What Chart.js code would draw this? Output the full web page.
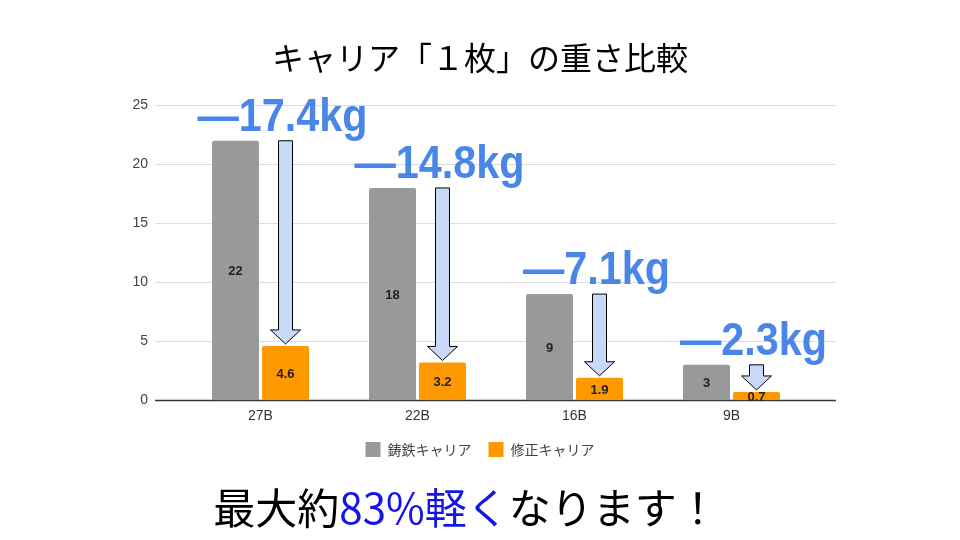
<!DOCTYPE html>
<html>
<head>
<meta charset="utf-8">
<script src="https://cdn.jsdelivr.net/npm/chart.js@4"></script>
<style>
    body { margin: 0; background: #fff; }
    #wrap { width: 960px; height: 540px; }
</style>
</head>
<body>
<div id="wrap"><canvas id="weight-chart" width="960" height="540"></canvas></div>
<script>
const carrierTypes = ['27B', '22B', '16B', '9B'];
const castIronWeights = [22, 18, 9, 3];
const modifiedWeights = [4.6, 3.2, 1.9, 0.7];
const reductionLabels = ['—17.4kg', '—14.8kg', '—7.1kg', '—2.3kg'];
const yTicks = [0, 5, 10, 15, 20, 25];

const GRAY = '#999999';
const ORANGE = '#ff9900';
const NOTE_BLUE = '#4a86e8';
const JP_FONT = '"Noto Sans CJK JP", "Noto Sans", sans-serif';
const LATIN_FONT = '"Liberation Sans", Arial, sans-serif';

// horizontal grid lines run wider than the bars (like the original sheet chart)
const wideGrid = {
    id: 'wideGrid',
    beforeDatasetsDraw(chart) {
        const ctx = chart.ctx;
        const y = chart.scales.y;
        ctx.save();
        yTicks.forEach(v => {
            const py = Math.round(y.getPixelForValue(v)) + 0.5;
            ctx.strokeStyle = v === 0 ? '#333333' : '#dddddd';
            ctx.lineWidth = v === 0 ? 1.5 : 1;
            ctx.beginPath();
            ctx.moveTo(155, py);
            ctx.lineTo(836, py);
            ctx.stroke();
        });
        ctx.restore();
    }
};

// value in the middle of each bar
const barValues = {
    id: 'barValues',
    afterDatasetsDraw(chart) {
        const ctx = chart.ctx;
        ctx.save();
        ctx.font = 'bold 13px ' + LATIN_FONT;
        ctx.fillStyle = '#222';
        ctx.textAlign = 'center';
        ctx.textBaseline = 'middle';
        chart.data.datasets.forEach((ds, di) => {
            chart.getDatasetMeta(di).data.forEach((bar, i) => {
                ctx.fillText(String(ds.data[i]), bar.x, (bar.y + bar.base) / 2 + 1);
            });
        });
        ctx.restore();
    }
};

// arrows from the cast iron height down to the modified carrier, plus the big reduction text
const reductionArrows = {
    id: 'reductionArrows',
    afterDatasetsDraw(chart) {
        const ctx = chart.ctx;
        const y = chart.scales.y;
        const orangeBars = chart.getDatasetMeta(1).data;
        ctx.save();
        orangeBars.forEach((bar, i) => {
            const cx = bar.x;
            const top = y.getPixelForValue(castIronWeights[i]);
            const tip = y.getPixelForValue(modifiedWeights[i]) - 2;
            const headH = 14, shaftW = 7, headW = 15;
            ctx.beginPath();
            ctx.moveTo(cx - shaftW, top);
            ctx.lineTo(cx + shaftW, top);
            ctx.lineTo(cx + shaftW, tip - headH);
            ctx.lineTo(cx + headW, tip - headH);
            ctx.lineTo(cx, tip);
            ctx.lineTo(cx - headW, tip - headH);
            ctx.lineTo(cx - shaftW, tip - headH);
            ctx.closePath();
            ctx.fillStyle = '#c9daf8';
            ctx.fill();
            ctx.strokeStyle = '#000';
            ctx.lineWidth = 1;
            ctx.stroke();

            ctx.save();
            ctx.translate(cx - 3, top - 10);
            ctx.scale(0.88, 1);
            ctx.font = 'bold 47px ' + LATIN_FONT;
            ctx.fillStyle = NOTE_BLUE;
            ctx.textAlign = 'center';
            ctx.textBaseline = 'alphabetic';
            ctx.fillText(reductionLabels[i], 0, 0);
            ctx.restore();
        });
        ctx.restore();
    }
};

// closing line under the legend, part of it in blue
const caption = {
    id: 'caption',
    afterDraw(chart) {
        const ctx = chart.ctx;
        const parts = [
            ['最大約', '#000000'],
            ['83%軽く', '#1515e8'],
            ['なります！', '#000000']
        ];
        ctx.save();
        ctx.font = '42px ' + JP_FONT;
        ctx.textBaseline = 'middle';
        ctx.textAlign = 'left';
        const total = parts.reduce((w, p) => w + ctx.measureText(p[0]).width, 0);
        let x = 466 - total / 2;
        parts.forEach(p => {
            ctx.fillStyle = p[1];
            ctx.fillText(p[0], x, 508);
            x += ctx.measureText(p[0]).width;
        });
        ctx.restore();
    }
};

const weightData = {
    labels: carrierTypes,
    datasets: [
        {
            label: '鋳鉄キャリア',
            data: castIronWeights,
            backgroundColor: GRAY,
            borderWidth: 0,
            borderRadius: 2,
            categoryPercentage: 0.637,
            barPercentage: 0.94
        },
        {
            label: '修正キャリア',
            data: modifiedWeights,
            backgroundColor: ORANGE,
            borderWidth: 0,
            borderRadius: 2,
            categoryPercentage: 0.637,
            barPercentage: 0.94
        }
    ]
};

const config = {
    type: 'bar',
    data: weightData,
    options: {
        responsive: false,
        devicePixelRatio: 1,
        animation: false,
        layout: {
            padding: { left: 0, right: 0, top: 0, bottom: 73 }
        },
        plugins: {
            title: {
                display: true,
                text: 'キャリア「１枚」の重さ比較',
                color: '#000',
                font: { family: JP_FONT, size: 32, weight: 'normal', lineHeight: 1.2 },
                padding: { top: 39, bottom: 28 }
            },
            legend: {
                position: 'bottom',
                labels: {
                    boxWidth: 15,
                    boxHeight: 15,
                    color: '#444',
                    padding: 17,
                    font: { family: JP_FONT, size: 14 }
                }
            },
            tooltip: { enabled: false }
        },
        scales: {
            x: {
                grid: { display: false },
                border: { display: false },
                ticks: {
                    color: '#333',
                    padding: 0,
                    font: { family: LATIN_FONT, size: 14 }
                }
            },
            y: {
                min: 0,
                max: 25,
                grid: { display: false },
                border: { display: false },
                afterBuildTicks: scale => {
                    scale.ticks = yTicks.map(v => ({ value: v }));
                },
                afterFit: scale => { scale.width = 182; },
                ticks: {
                    color: '#444',
                    padding: 26,
                    font: { family: LATIN_FONT, size: 14 }
                }
            },
            spacer: {
                position: 'right',
                display: true,
                grid: { display: false },
                border: { display: false },
                ticks: { display: false },
                afterFit: scale => { scale.width = 150; }
            }
        }
    },
    plugins: [wideGrid, barValues, reductionArrows, caption]
};

new Chart(document.getElementById('weight-chart'), config);
</script>
</body>
</html>
